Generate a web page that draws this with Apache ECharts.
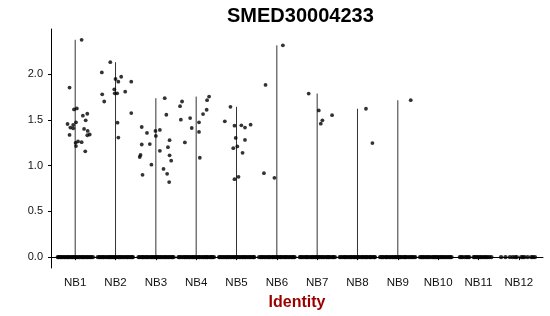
<!DOCTYPE html>
<html>
<head>
<meta charset="utf-8">
<script src="https://cdn.jsdelivr.net/npm/echarts@6/dist/echarts.min.js"></script>
<style>html,body{margin:0;padding:0;background:#fff}#c{width:550px;height:316px}</style>
</head>
<body>
<div id="c"></div>
<script>
const title = 'SMED30004233';
const xTitle = 'Identity';
const categories = ['NB1','NB2','NB3','NB4','NB5','NB6','NB7','NB8','NB9','NB10','NB11','NB12'];
const yTicks = [0, 0.5, 1.0, 1.5, 2.0];

// expressing cells: [jitter offset from group centre, expression value]
const NB1_expr = [[0.16,2.377],[-0.14,1.854],[-0.03,1.615],[0.04,1.626],[0.19,1.547],[0.30,1.568],[0.26,1.496],[-0.19,1.456],[-0.12,1.417],[-0.05,1.445],[-0.05,1.409],[0.02,1.474],[0.22,1.402],[0.31,1.380],[0.36,1.341],[0.30,1.333],[-0.14,1.337],[0.01,1.250],[0.07,1.265],[0.16,1.257],[0.02,1.214],[0.25,1.157]];
const NB2_expr = [[-0.13,2.132],[-0.34,2.020],[0.00,1.948],[0.14,1.973],[0.07,1.919],[0.39,1.919],[-0.03,1.835],[-0.02,1.792],[0.04,1.792],[0.24,1.810],[-0.33,1.781],[-0.28,1.702],[0.39,1.575],[0.05,1.471],[0.07,1.308]];
const NB3_expr = [[0.22,1.738],[0.26,1.557],[-0.35,1.423],[-0.22,1.358],[-0.01,1.380],[0.10,1.391],[0.00,1.326],[-0.35,1.232],[-0.15,1.236],[0.34,1.279],[0.30,1.203],[0.10,1.163],[-0.38,1.117],[-0.40,1.095],[0.34,1.113],[0.38,1.055],[-0.11,1.011],[0.19,0.965],[-0.33,0.900],[0.28,0.911],[0.33,0.821]];
const NB4_expr = [[0.32,1.756],[0.27,1.716],[-0.35,1.702],[-0.40,1.651],[0.26,1.612],[0.17,1.564],[-0.15,1.521],[-0.38,1.503],[0.07,1.474],[-0.11,1.412],[0.07,1.369],[-0.28,1.254],[0.09,1.087]];
const NB5_expr = [[-0.15,1.644],[-0.29,1.485],[-0.05,1.438],[0.12,1.442],[0.21,1.417],[0.35,1.449],[-0.02,1.304],[0.21,1.282],[-0.08,1.192],[0.02,1.211],[0.15,1.141],[-0.05,0.853],[0.05,0.878]];
const NB6_expr = [[0.15,2.316],[-0.28,1.883],[-0.32,0.918],[-0.06,0.867]];
const NB7_expr = [[-0.21,1.789],[0.04,1.604],[0.37,1.553],[0.13,1.496],[0.09,1.460]];
const NB8_expr = [[0.21,1.623],[0.37,1.247]];
const NB9_expr = [[0.32,1.716]];
const NB10_expr = [];
const NB11_expr = [];
const NB12_expr = [];

// non-expressing cells (value 0): jitter offsets from group centre
const NB1_zero = [-0.43,-0.41,-0.37,-0.35,-0.32,-0.28,-0.26,-0.22,-0.19,-0.17,-0.13,-0.10,-0.07,-0.04,-0.01,0.02,0.05,0.09,0.11,0.15,0.18,0.21,0.24,0.28,0.30,0.34,0.37,0.40,0.44];
const NB2_zero = [-0.44,-0.40,-0.38,-0.34,-0.31,-0.29,-0.25,-0.21,-0.18,-0.15,-0.12,-0.09,-0.06,-0.03,0.00,0.03,0.07,0.10,0.12,0.16,0.19,0.22,0.26,0.29,0.31,0.35,0.38,0.41,0.43];
const NB3_zero = [-0.43,-0.40,-0.36,-0.33,-0.31,-0.27,-0.24,-0.21,-0.18,-0.14,-0.11,-0.08,-0.05,-0.02,0.01,0.04,0.06,0.10,0.13,0.16,0.20,0.23,0.25,0.29,0.32,0.35,0.39,0.41,0.44];
const NB4_zero = [-0.44,-0.41,-0.38,-0.34,-0.30,-0.28,-0.25,-0.22,-0.18,-0.16,-0.12,-0.09,-0.06,-0.03,0.00,0.04,0.07,0.09,0.13,0.17,0.19,0.23,0.26,0.28,0.32,0.36,0.38,0.41,0.44];
const NB5_zero = [-0.43,-0.41,-0.37,-0.34,-0.31,-0.27,-0.25,-0.21,-0.19,-0.15,-0.12,-0.08,-0.06,-0.02,0.01,0.03,0.07,0.10,0.14,0.16,0.20,0.22,0.26,0.29,0.33,0.35,0.39,0.42,0.44];
const NB6_zero = [-0.44,-0.40,-0.37,-0.35,-0.31,-0.28,-0.24,-0.21,-0.19,-0.15,-0.11,-0.09,-0.05,-0.02,0.01,0.04,0.08,0.10,0.13,0.17,0.20,0.23,0.25,0.29,0.32,0.36,0.38,0.42,0.44];
const NB7_zero = [-0.43,-0.40,-0.38,-0.34,-0.30,-0.27,-0.25,-0.22,-0.18,-0.14,-0.12,-0.09,-0.05,-0.03,0.00,0.04,0.06,0.10,0.12,0.16,0.19,0.23,0.26,0.28,0.31,0.35,0.39,0.41,0.44];
const NB8_zero = [-0.44,-0.41,-0.37,-0.33,-0.31,-0.28,-0.24,-0.21,-0.17,-0.15,-0.11,-0.08,-0.06,-0.02,0.01,0.03,0.07,0.11,0.13,0.16,0.20,0.22,0.25,0.29,0.32,0.34,0.38,0.42,0.43];
const NB9_zero = [-0.44,-0.41,-0.38,-0.35,-0.30,-0.28,-0.25,-0.21,-0.18,-0.14,-0.12,-0.08,-0.05,-0.03,0.01,0.04,0.06,0.10,0.14,0.17,0.19,0.22,0.26,0.30,0.33,0.36,0.40,0.43];
const NB10_zero = [-0.45,-0.42,-0.39,-0.36,-0.33,-0.29,-0.26,-0.23,-0.20,-0.15,-0.12,-0.09,-0.06,-0.03,0.00,0.04,0.07,0.10,0.13,0.17,0.20,0.24,0.27,0.30,0.33];
const NB11_zero = [-0.46,-0.43,-0.40,-0.34,-0.30,-0.26,-0.23,-0.12,-0.09,-0.06,-0.02,0.01,0.05,0.08,0.12,0.16,0.19,0.23,0.27,0.32];
const NB12_zero = [-0.44,-0.33,-0.22,-0.15,-0.09,-0.05,0.06,0.10,0.14,0.22,0.31,0.35,0.40];

const exprGroups = [NB1_expr,NB2_expr,NB3_expr,NB4_expr,NB5_expr,NB6_expr,NB7_expr,NB8_expr,NB9_expr,NB10_expr,NB11_expr,NB12_expr];
const zeroGroups = [NB1_zero,NB2_zero,NB3_zero,NB4_zero,NB5_zero,NB6_zero,NB7_zero,NB8_zero,NB9_zero,NB10_zero,NB11_zero,NB12_zero];

const exprPoints = [];
const zeroPoints = [];
const series = [];
categories.forEach((c, i) => {
  const pos = i + 1;
  const vals = exprGroups[i].map(p => p[1]);
  const mx = vals.length ? Math.max(...vals) : 0;
  if (mx > 0) {
    series.push({
      type: 'line', silent: true, symbol: 'none', animation: false, z: 1,
      lineStyle: { color: '#333', width: 1 },
      data: [[pos, 0], [pos, mx]]
    });
  }
  zeroGroups[i].forEach(o => zeroPoints.push([pos + o, 0]));
  exprGroups[i].forEach(p => exprPoints.push([pos + p[0], p[1]]));
});
series.push({
  type: 'scatter', silent: true, animation: false, z: 3,
  symbolSize: 4.4,
  itemStyle: { color: '#000' },
  data: zeroPoints
});
series.push({
  type: 'scatter', silent: true, animation: false, z: 3,
  symbolSize: 3.8,
  itemStyle: { color: '#000' },
  data: exprPoints
});

const chart = echarts.init(document.getElementById('c'), null, { renderer: 'canvas' });
const FONT = '"Liberation Sans", Arial, sans-serif';
chart.setOption({
  animation: false,
  backgroundColor: '#fff',
  textStyle: { fontFamily: FONT },
  grid: { left: 51, right: 7, top: 29, bottom: 47, containLabel: false },
  graphic: [{
    type: 'text', left: 227, top: 6,
    style: { text: title, font: 'bold 20px ' + FONT, fill: '#000' }
  }],
  xAxis: {
    type: 'value', min: 0.4, max: 12.6,
    name: xTitle, nameLocation: 'middle', nameGap: 27,
    nameTextStyle: { color: '#990000', fontWeight: 'bold', fontSize: 16, fontFamily: FONT },
    splitLine: { show: false },
    axisLine: { show: true, lineStyle: { color: '#000', width: 1 } },
    axisTick: { show: true, length: 3, customValues: categories.map((c, i) => i + 1), lineStyle: { color: '#000' } },
    axisLabel: { customValues: categories.map((c, i) => i + 1), formatter: v => categories[Math.round(v) - 1], color: '#111', fontSize: 11.5, margin: 9, fontFamily: FONT }
  },
  yAxis: {
    type: 'value', min: -0.119, max: 2.495,
    splitLine: { show: false },
    axisLine: { show: true, lineStyle: { color: '#000', width: 1 } },
    axisTick: { show: true, length: 3, customValues: yTicks, lineStyle: { color: '#000' } },
    axisLabel: { customValues: yTicks, formatter: v => v.toFixed(1), color: '#111', fontSize: 11, margin: 8, fontFamily: FONT }
  },
  series: series
});
</script>
</body>
</html>
